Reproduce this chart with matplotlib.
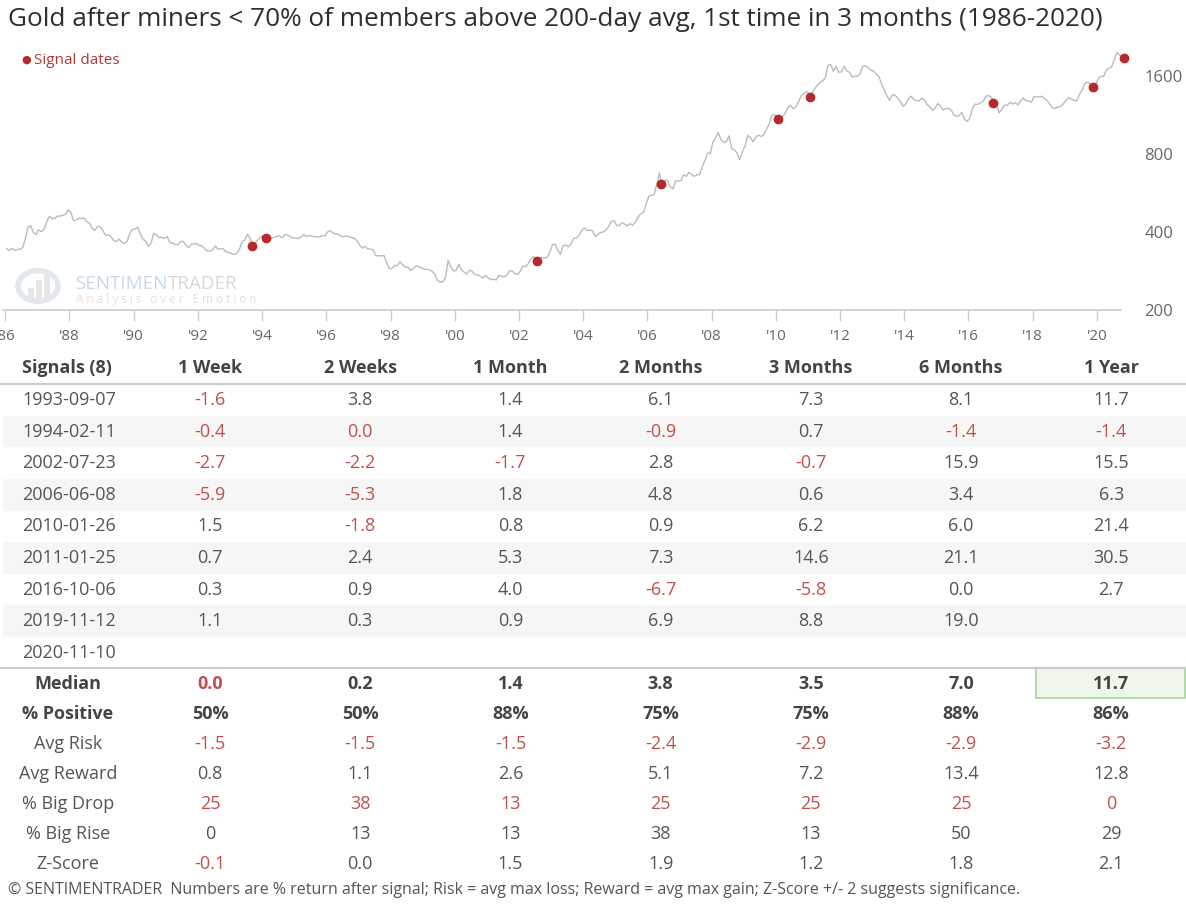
import matplotlib
matplotlib.use("Agg")
import matplotlib.pyplot as plt
from matplotlib.ticker import FixedLocator, FixedFormatter, NullLocator
from matplotlib.patches import Rectangle, Circle

plt.rcParams['font.family'] = ['Open Sans', 'DejaVu Sans']

W, H = 1186, 910

title = "Gold after miners < 70% of members above 200-day avg, 1st time in 3 months (1986-2020)"
footer = ("\u00a9 SENTIMENTRADER  Numbers are % return after signal; Risk = avg max loss; "
          "Reward = avg max gain; Z-Score +/- 2 suggests significance.")

# gold, monthly averages, Jan 1986 .. Nov 2020
gold_start_year = 1986
gold_monthly = [
    345, 339, 346, 340, 342, 343, 348, 376, 418, 423, 398, 391,   # 1986
    408, 401, 409, 438, 460, 450, 451, 461, 460, 465, 467, 487,   # 1987
    477, 442, 444, 452, 451, 452, 437, 433, 413, 406, 420, 419,   # 1988
    404, 388, 390, 384, 371, 367, 375, 365, 362, 367, 394, 409,   # 1989
    410, 417, 393, 374, 369, 352, 362, 395, 389, 381, 381, 378,   # 1990
    384, 364, 363, 358, 357, 367, 368, 356, 348, 358, 360, 361,   # 1991
    354, 354, 345, 338, 337, 341, 353, 343, 345, 344, 335, 334,   # 1992
    330, 328, 330, 342, 367, 372, 392, 378, 355, 364, 374, 383,   # 1993
    387, 382, 384, 378, 381, 385, 386, 380, 391, 389, 384, 379,   # 1994
    379, 377, 382, 391, 385, 387, 386, 383, 383, 383, 386, 387,   # 1995
    400, 405, 396, 393, 392, 385, 383, 387, 383, 381, 378, 369,   # 1996
    355, 347, 352, 344, 344, 341, 324, 324, 323, 325, 306, 289,   # 1997
    289, 297, 296, 308, 299, 292, 293, 284, 289, 296, 294, 291,   # 1998
    287, 287, 286, 282, 276, 261, 256, 257, 265, 311, 293, 283,   # 1999
    284, 300, 286, 280, 275, 285, 282, 274, 273, 270, 266, 272,   # 2000
    266, 262, 263, 261, 272, 270, 268, 273, 283, 283, 276, 275,   # 2001
    282, 296, 294, 302, 314, 322, 314, 310, 319, 317, 319, 333,   # 2002
    357, 359, 340, 328, 355, 356, 351, 360, 379, 379, 389, 407,   # 2003
    414, 405, 406, 404, 384, 392, 398, 400, 406, 420, 439, 442,   # 2004
    424, 423, 434, 429, 422, 431, 424, 437, 456, 470, 476, 510,   # 2005
    549, 555, 557, 610, 676, 596, 633, 632, 598, 586, 628, 629,   # 2006
    631, 665, 655, 679, 667, 655, 665, 665, 713, 754, 807, 803,   # 2007
    889, 923, 968, 909, 888, 890, 939, 839, 830, 806, 760, 816,   # 2008
    858, 943, 925, 890, 928, 945, 934, 949, 996, 1043, 1127, 1134,  # 2009
    1118, 1095, 1113, 1149, 1205, 1232, 1193, 1215, 1271, 1343, 1370, 1391,  # 2010
    1356, 1372, 1424, 1473, 1510, 1529, 1572, 1756, 1771, 1665, 1739, 1652,  # 2011
    1656, 1742, 1673, 1650, 1585, 1596, 1594, 1630, 1744, 1747, 1722, 1684,  # 2012
    1670, 1627, 1593, 1487, 1414, 1343, 1286, 1351, 1349, 1316, 1275, 1222,  # 2013
    1244, 1300, 1336, 1299, 1287, 1279, 1311, 1296, 1239, 1222, 1176, 1201,  # 2014
    1251, 1227, 1179, 1198, 1199, 1182, 1131, 1117, 1125, 1157, 1087, 1068,  # 2015
    1097, 1199, 1246, 1242, 1261, 1276, 1337, 1341, 1326, 1266, 1236, 1152,  # 2016
    1192, 1234, 1231, 1266, 1246, 1260, 1236, 1283, 1314, 1280, 1283, 1265,  # 2017
    1331, 1331, 1325, 1335, 1303, 1282, 1238, 1202, 1199, 1215, 1221, 1250,  # 2018
    1291, 1320, 1300, 1286, 1284, 1359, 1413, 1500, 1511, 1495, 1471, 1480,  # 2019
    1560, 1597, 1592, 1683, 1716, 1732, 1846, 1968, 1921, 1900, 1875,        # 2020
]

signal_dates = ["1993-09-07", "1994-02-11", "2002-07-23", "2006-06-08", "2010-01-26",
                "2011-01-25", "2016-10-06", "2019-11-12", "2020-11-10"]
signal_prices = [352, 380, 308, 610, 1095, 1330, 1257, 1450, 1870]

x_tick_years = list(range(1986, 2021, 2))
x_tick_labels = ["'%02d" % (y % 100) for y in x_tick_years]
y_ticks = [200, 400, 800, 1600]

columns = ["1 Week", "2 Weeks", "1 Month", "2 Months", "3 Months", "6 Months", "1 Year"]
signal_rows = [
    ["-1.6", "3.8", "1.4", "6.1", "7.3", "8.1", "11.7"],
    ["-0.4", "0.0", "1.4", "-0.9", "0.7", "-1.4", "-1.4"],
    ["-2.7", "-2.2", "-1.7", "2.8", "-0.7", "15.9", "15.5"],
    ["-5.9", "-5.3", "1.8", "4.8", "0.6", "3.4", "6.3"],
    ["1.5", "-1.8", "0.8", "0.9", "6.2", "6.0", "21.4"],
    ["0.7", "2.4", "5.3", "7.3", "14.6", "21.1", "30.5"],
    ["0.3", "0.9", "4.0", "-6.7", "-5.8", "0.0", "2.7"],
    ["1.1", "0.3", "0.9", "6.9", "8.8", "19.0", ""],
    ["", "", "", "", "", "", ""],
]
# zeros shown red in the table (small negative values rounded to 0.0)
signal_red_zero = [(1, 1)]

stat_labels = ["Median", "% Positive", "Avg Risk", "Avg Reward", "% Big Drop", "% Big Rise", "Z-Score"]
stat_rows = [
    ["0.0", "0.2", "1.4", "3.8", "3.5", "7.0", "11.7"],
    ["50%", "50%", "88%", "75%", "75%", "88%", "86%"],
    ["-1.5", "-1.5", "-1.5", "-2.4", "-2.9", "-2.9", "-3.2"],
    ["0.8", "1.1", "2.6", "5.1", "7.2", "13.4", "12.8"],
    ["25", "38", "13", "25", "25", "25", "0"],
    ["0", "13", "13", "38", "13", "50", "29"],
    ["-0.1", "0.0", "1.5", "1.9", "1.2", "1.8", "2.1"],
]
stat_red_zero = [(0, 0)]
stat_bold = ["Median", "% Positive"]
stat_red_rows = ["% Big Drop"]

RED = '#c0504d'
TXT = '#555555'
HDR = '#444444'


def px(x, y):
    return x / W, 1 - y / H


def decimal_year(d):
    y, m, dd = [int(p) for p in d.split('-')]
    return y + (m - 1) / 12 + (dd - 1) / 365


fig = plt.figure(figsize=(W / 100, H / 100), dpi=100)
fig.patch.set_facecolor('white')

fig.text(*px(8, 20), title, fontsize=18.8, color='#2e2e2e', ha='left', va='center')

# ---- price chart ----
ax = fig.add_axes([3 / W, 1 - 310 / H, (1121 - 3) / W, (310 - 40) / H])
gold_x = [gold_start_year + (i + 0.5) / 12 for i in range(len(gold_monthly))]
ax.plot(gold_x, gold_monthly, color='#bbbbbb', linewidth=1.0, zorder=2)
sig_x = [decimal_year(d) for d in signal_dates]
ax.plot(sig_x, signal_prices, 'o', color='#b52a2a', markersize=6, zorder=3, clip_on=False)

ax.set_yscale('log')
ax.set_ylim(200, 2200)
ax.set_xlim(1985.93, 2020.75)
ax.yaxis.set_major_locator(FixedLocator(y_ticks))
ax.yaxis.set_major_formatter(FixedFormatter([str(v) for v in y_ticks]))
ax.yaxis.set_minor_locator(NullLocator())
ax.yaxis.tick_right()
ax.tick_params(axis='y', length=0, pad=17, labelsize=12, labelcolor='#666666')
ax.set_xticks(x_tick_years)
ax.set_xticklabels(x_tick_labels)
ax.tick_params(axis='x', length=8, width=1, color='#cccccc', labelsize=11,
               labelcolor='#666666', pad=6)
for s in ['top', 'left', 'right']:
    ax.spines[s].set_visible(False)
ax.spines['bottom'].set_color('#cccccc')
ax.spines['bottom'].set_linewidth(1.2)

# legend
fig.text(*px(21, 60), "\u25cf", color='#b52a2a', fontsize=8, ha='left', va='center',
         family=['DejaVu Sans'])
fig.text(*px(34, 60), "Signal dates", color='#b03a3a', fontsize=11, ha='left', va='center')

# watermark
fig.add_artist(Circle(px(38, 286), 20 / W, transform=fig.transFigure, fill=False,
                      edgecolor='#e3e8ee', linewidth=4, zorder=1))
for bx, bh in zip([28, 36, 44], [12, 20, 26]):
    fig.add_artist(Rectangle(px(bx, 300), 6 / W, bh / H, facecolor='#e6e6e6',
                             edgecolor='none', zorder=1))
wm1 = fig.text(*px(75, 284), "SENTIMEN", color='#c6daec', fontsize=13.5, ha='left',
               va='center')
ax.annotate("TRADER", xy=(1, 0.5), xycoords=wm1, ha='left', va='center',
            color='#d8d8d8', fontsize=13.5, annotation_clip=False)
fig.text(*px(76, 300), "A n a l y s i s   o v e r   E m o t i o n", color='#e0e0e0',
         fontsize=8.5, ha='left', va='center')

# ---- table ----
col_x = [210 + 150.2 * i for i in range(len(columns))]
header_y = 368
fig.text(*px(22, header_y), "Signals (%d)" % (len(signal_dates) - 1), fontsize=13,
         fontweight='bold', color=HDR, ha='left', va='center')
for cx, c in zip(col_x, columns):
    fig.text(*px(cx, header_y), c, fontsize=13, fontweight='bold', color=HDR,
             ha='center', va='center')

fig.add_artist(plt.Line2D([0, 1], [1 - 384 / H] * 2, color='#cccccc', linewidth=1.6))

row_y0, row_dy = 400, 31.6
for i, (d, vals) in enumerate(zip(signal_dates, signal_rows)):
    y = row_y0 + row_dy * i
    if i % 2 == 1:
        fig.add_artist(Rectangle(px(3, y + row_dy / 2), 1 - 3 / W, row_dy / H,
                                 facecolor='#f6f6f6', edgecolor='none', zorder=0))
    fig.text(*px(22, y), d, fontsize=13, color=TXT, ha='left', va='center')
    for j, v in enumerate(vals):
        red = v.startswith('-') or (i, j) in signal_red_zero
        fig.text(*px(col_x[j], y), v, fontsize=13, color=RED if red else TXT,
                 ha='center', va='center')

fig.add_artist(plt.Line2D([0, 1], [1 - 668 / H] * 2, color='#cccccc', linewidth=1.6))

stat_y0, stat_dy = 684, 30
# highlight box for the 1 Year median
fig.add_artist(Rectangle(px(1036, 698), (1185 - 1036) / W, 30 / H,
                         facecolor='#eff6ea', edgecolor='#a6d39b', linewidth=1.2, zorder=0))
for i, (lab, vals) in enumerate(zip(stat_labels, stat_rows)):
    y = stat_y0 + stat_dy * i
    w = 'bold' if lab in stat_bold else 'normal'
    fig.text(*px(68, y), lab, fontsize=13, fontweight=w, color=HDR if w == 'bold' else TXT,
             ha='center', va='center')
    for j, v in enumerate(vals):
        red = v.startswith('-') or (i, j) in stat_red_zero or lab in stat_red_rows
        fig.text(*px(col_x[j], y), v, fontsize=13, fontweight=w,
                 color=RED if red else (HDR if w == 'bold' else TXT),
                 ha='center', va='center')

fig.text(*px(8, 890), footer, fontsize=11.5, color=TXT, ha='left', va='center')

fig.savefig('out.png', dpi=100)
